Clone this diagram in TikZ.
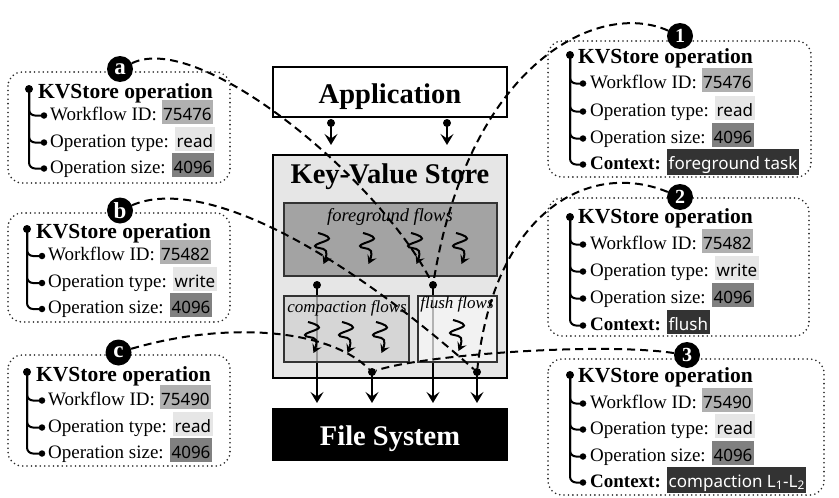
\documentclass[tikz,border=0pt]{standalone}
\usepackage{fontspec}
\setmainfont{Liberation Serif}
\newfontfamily\valfont{Noto Sans}
\usetikzlibrary{arrows.meta}
\definecolor{cWid}{HTML}{B0B0B0}
\definecolor{cTyp}{HTML}{E6E6E6}
\definecolor{cSiz}{HTML}{808080}
\definecolor{cCtx}{HTML}{333333}
\definecolor{cKvs}{HTML}{E6E6E6}
\definecolor{cFg}{HTML}{A3A3A3}
\definecolor{cCp}{HTML}{D0D0D0}
\definecolor{cFl}{HTML}{F8F8F8}
\newcommand\hv[2]{{\setlength\fboxsep{1.5pt}\colorbox{#1}{\valfont\fontsize{17}{18}\selectfont\rule[-2.5pt]{0pt}{21pt}#2}}}
\newcommand\hvc[1]{\hv{cCtx}{\color{white}#1}}
\begin{document}
\begin{tikzpicture}[x=1pt,y=-1pt,
  obox/.style={draw=black!85, line width=1.8pt, line cap=round, dash pattern=on 0pt off 4.4pt, rounded corners=14pt},
  ttl/.style={font=\fontsize{21.5}{24}\selectfont\bfseries, inner sep=0pt, anchor=base west},
  row/.style={font=\fontsize{19}{22}\selectfont, inner sep=0pt, anchor=base west},
  tree/.style={line width=2pt, rounded corners=6pt},
  dotb/.style={circle, fill=black, inner sep=0pt, minimum size=8pt},
  dots/.style={circle, fill=black, inner sep=0pt, minimum size=6.5pt},
  badge/.style={circle, fill=black, inner sep=0pt, minimum size=26pt, text=white, font=\fontsize{20}{20}\selectfont\bfseries},
  bigbox/.style={draw=black, line width=2pt, inner sep=0pt},
  subbox/.style={draw=black!80, line width=2pt, inner sep=0pt, fill opacity=0.72, draw opacity=1},
  big/.style={font=\fontsize{28.5}{30}\selectfont\bfseries, inner sep=0pt, anchor=base},
  flw/.style={font=\fontsize{17}{18}\selectfont\itshape, inner sep=0pt, anchor=base},
  arr/.style={line width=2pt, -{Stealth[length=11pt,width=13pt,inset=4.5pt]}},
  sqline/.style={line width=2pt, -{Stealth[length=8.5pt,width=10pt,inset=3.5pt]}},
  dl/.style={line width=2pt, dash pattern=on 8pt off 5pt},
  squig/.pic={\draw[sqline] plot[smooth,tension=0.75] coordinates {(-4,0) (7,5.5) (-7,13) (4,18) (1.5,31)};}
]
\useasboundingbox (0,0) rectangle (839,498);
\fill[white] (0,0) rectangle (839,498);

% ---------- centre ----------
\node[bigbox, fill=white, minimum width=234pt, minimum height=50pt] (app) at (390,92) {};
\node[big] (appt) at (390,103) {Application};
\node[bigbox, fill=cKvs, minimum width=234pt, minimum height=223pt] (kvs) at (390,266.5) {};
\node[big] (kvst) at (390,183) {Key-Value Store};
\node[bigbox, fill=black, minimum width=234pt, minimum height=51pt] (fs) at (390,434.5) {};
\node[big, text=white] (fst) at (390,445) {File System};

\node[dotb] (ap1) at (331,123) {};
\node[dotb] (ap2) at (447,123) {};
\draw[arr, shorten >=9pt] (ap1.center) -- (ap1.center |- kvs.north);
\draw[arr, shorten >=9pt] (ap2.center) -- (ap2.center |- kvs.north);

\node[dotb] (fo1) at (317,285) {};
\node[dotb] (fo2) at (433,285) {};
\node[dotb] (co) at (372,372) {};
\node[dotb] (flo) at (477,372) {};
\draw[arr, shorten >=5pt] (fo1.center) -- (fo1.center |- fs.north);
\draw[arr, shorten >=5pt] (fo2.center) -- (fo2.center |- fs.north);
\draw[arr, shorten >=5pt] (co.center) -- (co.center |- fs.north);
\draw[arr, shorten >=5pt] (flo.center) -- (flo.center |- fs.north);

\node[subbox, fill=cFg, fill opacity=1, minimum width=213pt, minimum height=73pt] (fg) at (390.5,239.5) {};
\node[flw, font=\fontsize{18.5}{19}\selectfont\itshape] (fgt) at (390,221) {foreground flows};
\node[subbox, fill=cCp, minimum width=125pt, minimum height=66pt] (cp) at (346.5,329) {};
\node[flw] (cpt) at (347,312) {compaction flows};
\node[subbox, fill=cFl, minimum width=79pt, minimum height=66pt] (fl) at (457.5,329) {};
\node[flw] (flt) at (457,308) {flush flows};

\foreach \x in {322,367,415,460} \pic at (\x,233) {squig};
\foreach \x in {312,346,380} \pic at (\x,322) {squig};
\pic at (457,320) {squig};

% ---------- left boxes ----------
\draw[obox] (8,72) rectangle (230,183);
\node[dotb] (a0) at (29,89) {};
\node[ttl] (at) at (38,98) {KVStore operation};
\node[dots] (a1) at (44,115.5) {};
\node[row] (ar1) at (50,120) {Workflow ID: \hv{cWid}{75476}};
\node[dots] (a2) at (44,142.5) {};
\node[row] (ar2) at (50,147) {Operation type: \hv{cTyp}{read}};
\node[dots] (a3) at (44,168.5) {};
\node[row] (ar3) at (50,173) {Operation size: \hv{cSiz}{4096}};
\foreach \i in {1,2,3} \draw[tree] (a0.center) |- (a\i.center);
\node[badge, font=\fontsize{23}{23}\selectfont\bfseries] (ca) at (120,69) {a};

\draw[obox] (8,213) rectangle (230,322);
\node[dotb] (b0) at (27,229) {};
\node[ttl] (bt) at (36,238) {KVStore operation};
\node[dots] (b1) at (42,256) {};
\node[row] (br1) at (48,260) {Workflow ID: \hv{cWid}{75482}};
\node[dots] (b2) at (42,283) {};
\node[row] (br2) at (48,287) {Operation type: \hv{cTyp}{write}};
\node[dots] (b3) at (42,309) {};
\node[row] (br3) at (48,313) {Operation size: \hv{cSiz}{4096}};
\foreach \i in {1,2,3} \draw[tree] (b0.center) |- (b\i.center);
\node[badge, font=\fontsize{23}{23}\selectfont\bfseries] (cb) at (120,210.5) {b};

\draw[obox] (8,355) rectangle (230,466);
\node[dotb] (c0) at (27,372) {};
\node[ttl] (ct) at (36,381) {KVStore operation};
\node[dots] (cc1) at (42,400.5) {};
\node[row] (cr1) at (48,405) {Workflow ID: \hv{cWid}{75490}};
\node[dots] (cc2) at (42,427.5) {};
\node[row] (cr2) at (48,432) {Operation type: \hv{cTyp}{read}};
\node[dots] (cc3) at (42,453.5) {};
\node[row] (cr3) at (48,458) {Operation size: \hv{cSiz}{4096}};
\foreach \i in {1,2,3} \draw[tree] (c0.center) |- (cc\i.center);
\node[badge, font=\fontsize{23}{23}\selectfont\bfseries] (cc) at (118.5,352.5) {c};

% ---------- right boxes ----------
\draw[obox] (548,41) rectangle (811,177);
\node[dotb] (p0) at (570,55) {};
\node[ttl] (pt) at (578,63) {KVStore operation};
\node[dots] (p1) at (583,83.5) {};
\node[row] (pr1) at (590,88) {Workflow ID: \hv{cWid}{75476}};
\node[dots] (p2) at (583,111.5) {};
\node[row] (pr2) at (590,116) {Operation type: \hv{cTyp}{read}};
\node[dots] (p3) at (583,138.5) {};
\node[row] (pr3) at (590,143) {Operation size: \hv{cSiz}{4096}};
\node[dots] (p4) at (583,164.5) {};
\node[row] (pr4) at (590,169) {\textbf{Context:} \hvc{foreground task}};
\foreach \i in {1,2,3,4} \draw[tree] (p0.center) |- (p\i.center);
\node[badge] (c1) at (680,36) {1};

\draw[obox] (548,198) rectangle (809,336);
\node[dotb] (q0) at (570,217) {};
\node[ttl] (qt) at (578,223) {KVStore operation};
\node[dots] (q1) at (583,244.5) {};
\node[row] (qr1) at (590,249) {Workflow ID: \hv{cWid}{75482}};
\node[dots] (q2) at (583,271.5) {};
\node[row] (qr2) at (590,276) {Operation type: \hv{cTyp}{write}};
\node[dots] (q3) at (583,298.5) {};
\node[row] (qr3) at (590,303) {Operation size: \hv{cSiz}{4096}};
\node[dots] (q4) at (583,325.5) {};
\node[row] (qr4) at (590,330) {\textbf{Context:} \hvc{flush}};
\foreach \i in {1,2,3,4} \draw[tree] (q0.center) |- (q\i.center);
\node[badge] (c2) at (680,197) {2};

\draw[obox] (548,359) rectangle (824,495);
\node[dotb] (r0) at (570,375) {};
\node[ttl] (rt) at (578,382) {KVStore operation};
\node[dots] (r1) at (583,403.5) {};
\node[row] (rr1) at (590,408) {Workflow ID: \hv{cWid}{75490}};
\node[dots] (r2) at (583,429.5) {};
\node[row] (rr2) at (590,434) {Operation type: \hv{cTyp}{read}};
\node[dots] (r3) at (583,456.5) {};
\node[row] (rr3) at (590,461) {Operation size: \hv{cSiz}{4096}};
\node[dots] (r4) at (583,482.5) {};
\node[row] (rr4) at (590,487) {\textbf{Context:} \hvc{compaction L\textsubscript{1}-L\textsubscript{2}}};
\foreach \i in {1,2,3,4} \draw[tree] (r0.center) |- (r\i.center);
\node[badge] (c3) at (687,355) {3};

% ---------- dashed links ----------
\draw[dl] (ca) .. controls (200,30) and (380,180) .. (fo2);
\draw[dl] (c1) .. controls (600,0) and (470,60) .. (fo2);
\draw[dl] (cb) .. controls (190,180) and (310,225) .. (flo);
\draw[dl] (c2) .. controls (590,160) and (495,210) .. (flo);
\draw[dl] (cc) .. controls (230,320) and (330,330) .. (co);
\draw[dl] (c3) .. controls (600,342) and (420,355) .. (co);
\end{tikzpicture}
\end{document}
